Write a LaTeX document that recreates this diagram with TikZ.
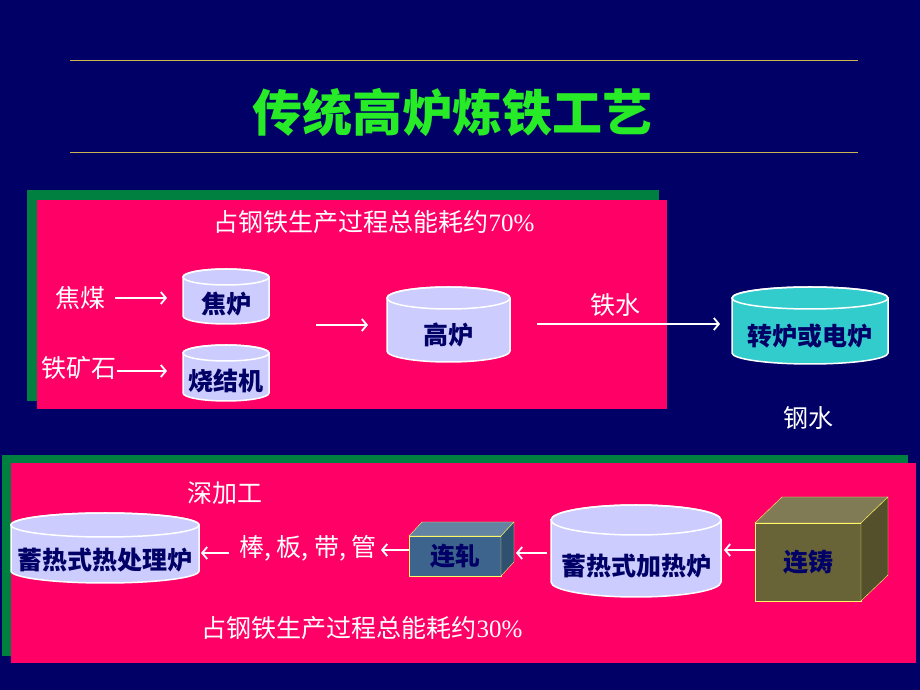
\documentclass[tikz,border=0pt]{standalone}
\usepackage{fontspec}
\setmainfont{Liberation Serif}
\newfontfamily\cjk{Noto Sans CJK SC}
\usetikzlibrary{calc,arrows.meta}

\definecolor{navy}{RGB}{0,0,102}
\definecolor{rose}{RGB}{255,0,102}
\definecolor{leaf}{RGB}{0,128,64}
\definecolor{gold}{RGB}{204,180,80}
\definecolor{lime}{RGB}{40,235,40}
\definecolor{lav}{RGB}{204,204,255}
\definecolor{teal}{RGB}{51,204,204}
\definecolor{steel}{RGB}{60,100,140}
\definecolor{olive}{RGB}{105,100,55}

\pgfdeclarelayer{back}
\pgfdeclarelayer{body}
\pgfsetlayers{back,body,main}

\newcommand\drum[3]{%
  \begin{pgfonlayer}{body}
  \path[draw=white, line width=1.5pt, fill=#3] let \p1=($(#1.east)-(#1.west)$) in
    ([yshift=#2]#1.north west) -- ([yshift=#2]#1.south west)
    arc[start angle=180, end angle=360, x radius=0.5*\x1, y radius=#2]
    -- ([yshift=#2]#1.north east)
    arc[start angle=0, end angle=180, x radius=0.5*\x1, y radius=#2] -- cycle;
  \path[draw=white, line width=1.5pt] let \p1=($(#1.east)-(#1.west)$) in
    ([yshift=#2]#1.north) ellipse[x radius=0.5*\x1, y radius=#2];
  \end{pgfonlayer}}

\newcommand\slab[5]{%
  \filldraw[draw=yellow!60, fill=#4] (#1.north west) -- ++(#2,#3) -- ($(#1.north east)+(#2,#3)$) -- (#1.north east) -- cycle;
  \filldraw[draw=yellow!60, fill=#5] (#1.north east) -- ++(#2,#3) -- ($(#1.south east)+(#2,#3)$) -- (#1.south east) -- cycle;}

\begin{document}
\begin{tikzpicture}[x=1pt, y=1pt,
    lbl/.style={text=white, inner sep=0pt, font=\cjk\fontsize{25}{30}\selectfont},
    share/.style={text=white, inner sep=0pt, font=\fontsize{25}{30}\selectfont},
    unit/.style={rectangle, inner sep=0pt, outer sep=0pt, text=navy, font=\cjk\bfseries\fontsize{25}{30}\selectfont},
    cube/.style={unit, draw=yellow!60, fill=#1},
    flow/.style={draw=white, line width=1.8pt, -{Straight Barb[length=5pt,width=12pt]}}]
  \begin{pgfonlayer}{back}
    \fill[navy] (0,0) rectangle (920,690);
    \draw[gold, line width=1pt] (70,629) -- (858,629);
    \draw[gold, line width=1pt] (70,537) -- (858,537);
    \fill[leaf] (27,500) rectangle (659,289);
    \fill[rose] (37,490) rectangle (667,281);
    \fill[leaf] (2,235) rectangle (908,34);
    \fill[rose] (11,227) rectangle (916,27);
  \end{pgfonlayer}

  \node[text=lime, font=\cjk\bfseries\fontsize{50}{56}\selectfont] (title) at (452,578) {传统高炉炼铁工艺};

  \node[share] (upper) at (374,468) {{\cjk 占钢铁生产过程总能耗约}70\%};
  \node[share] (lower) at (362,62) {{\cjk 占钢铁生产过程总能耗约}30\%};

  \node[lbl] (coal) at (80,392) {焦煤};
  \node[lbl] (ore) at (79,322) {铁矿石};
  \node[lbl] (iron) at (615,385) {铁水};
  \node[lbl] (steel) at (808,272) {钢水};
  \node[lbl] (deep) at (225,197) {深加工};
  \node[lbl] (prod) at (308,142) {棒, 板, 带, 管};

  \node[unit, minimum width=86pt, minimum height=39pt] (coke) at (226,385.5) {焦炉};
  \node[unit, minimum width=86pt, minimum height=40pt] (sinter) at (226,309) {烧结机};
  \node[unit, minimum width=123pt, minimum height=53pt] (blast) at (448.5,354.5) {高炉};
  \node[unit, minimum width=156pt, minimum height=55pt] (conv) at (810,353.5) {转炉或电炉};
  \node[unit, minimum width=188pt, minimum height=46pt] (treat) at (105,130) {蓄热式热处理炉};
  \node[unit, minimum width=170pt, minimum height=62pt] (heat) at (636,124) {蓄热式加热炉};
  \drum{coke}{8pt}{lav}
  \drum{sinter}{8pt}{lav}
  \drum{blast}{11pt}{lav}
  \drum{conv}{11pt}{teal}
  \drum{treat}{12pt}{lav}
  \drum{heat}{15pt}{lav}

  \node[cube=steel, minimum width=92pt, minimum height=40pt] (roll) at (455,134) {连轧};
  \slab{roll}{13}{14}{steel!80!white}{steel!80!black}
  \node[cube=olive, minimum width=106pt, minimum height=78pt] (cast) at (808,128) {连铸};
  \slab{cast}{27}{26}{olive!85!white}{olive!80!black}

  \coordinate (mix) at (316,365);

  \draw[flow, shorten <=10pt, shorten >=16pt] (coal.east) -- (coal.east -| coke.west);
  \draw[flow, shorten >=16pt] ([yshift=-3pt]ore.east) -- ([yshift=-3pt]ore.east -| sinter.west);
  \draw[flow, shorten >=19pt] (mix) -- (mix -| blast.west);
  \draw[flow, shorten <=27pt, shorten >=12pt] ([yshift=11.5pt]blast.east) -- ([yshift=11.5pt]blast.east -| conv.west);
  \draw[flow, shorten >=3pt] ([yshift=12pt]cast.west) -- ([yshift=12pt]cast.west -| heat.east);
  \draw[flow, shorten <=4pt, shorten >=15pt] ([yshift=13pt]heat.west) -- ([yshift=13pt]heat.west -| roll.east);
  \draw[flow, shorten >=4pt] ([yshift=6pt]roll.west) -- ([yshift=6pt]roll.west -| prod.east);
  \draw[flow, shorten <=10pt, shorten >=2pt] ([yshift=-5pt]prod.west) -- ([yshift=-5pt]prod.west -| treat.east);
\end{tikzpicture}
\end{document}
